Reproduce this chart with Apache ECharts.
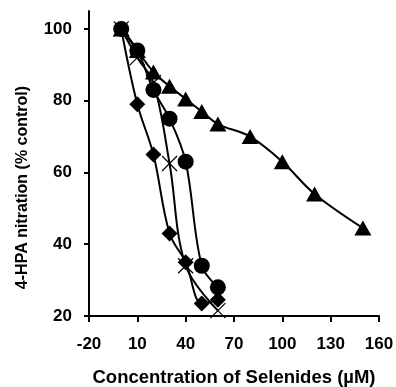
<!DOCTYPE html>
<html>
<head>
<meta charset="utf-8">
<script src="https://cdn.jsdelivr.net/npm/echarts@6/dist/echarts.min.js"></script>
<style>
  html, body { margin: 0; padding: 0; background: #fff; }
  #chart { width: 396px; height: 387px; }
</style>
</head>
<body>
<div id="chart"></div>
<script>
// concentrations (µM) and % control per selenide
const triX = [0, 10, 20, 30, 40, 50, 60, 80, 100, 120, 150];
const triY = [100, 94, 88, 84, 80.5, 77, 73.5, 70, 63, 54, 44.5];
const crossX = [0, 10, 20, 30, 40, 60];
const crossY = [100, 92, 85, 62.5, 34, 21.5];
const diamondX = [0, 10, 20, 30, 40, 50, 60];
const diamondY = [100, 79, 65, 43, 35, 23.5, 24.5];
const circleX = [0, 10, 20, 30, 40, 50, 60];
const circleY = [100, 94, 83, 75, 63, 34, 28];
const xTicks = [-20, 10, 40, 70, 100, 130, 160];
const yTicks = [20, 40, 60, 80, 100];

const font = 'Liberation Sans, Arial, sans-serif';
const pair = (xs, ys) => xs.map((x, i) => [x, ys[i]]);
const crossPath = 'path://M0,0L10,10M10,0L0,10';

function line(name, xs, ys, symbol, size, extra) {
  return Object.assign({
    name,
    type: 'line',
    data: pair(xs, ys),
    smooth: 0.35,
    symbol,
    symbolSize: size,
    lineStyle: {color: '#000', width: 2},
    itemStyle: {color: '#000'},
    animation: false,
  }, extra || {});
}

const chart = echarts.init(document.getElementById('chart'), null, {renderer: 'canvas'});
chart.setOption({
  backgroundColor: '#fff',
  grid: {left: 89, right: 17, top: 11, bottom: 71, containLabel: false, outerBoundsMode: 'none'},
  xAxis: {
    type: 'value',
    min: -20,
    max: 160,
    name: 'Concentration of Selenides (µM)',
    nameLocation: 'middle',
    nameGap: 52,
    nameTextStyle: {color: '#000', fontFamily: font, fontWeight: 'bold', fontSize: 18.5},
    axisLine: {onZero: false, lineStyle: {color: '#000', width: 2}},
    axisTick: {customValues: xTicks, length: 6, lineStyle: {color: '#000', width: 2}},
    axisLabel: {customValues: xTicks, color: '#000', fontFamily: font, fontWeight: 'bold', fontSize: 17, margin: 20},
    splitLine: {show: false},
  },
  yAxis: {
    type: 'value',
    min: 20,
    max: 105,
    name: '4-HPA nitration (% control)',
    nameLocation: 'middle',
    nameGap: 58,
    nameTextStyle: {color: '#000', fontFamily: font, fontWeight: 'bold', fontSize: 16, padding: [0, 48, 0, 0]},
    axisLine: {show: true, onZero: false, lineStyle: {color: '#000', width: 2}},
    axisTick: {show: true, customValues: yTicks, length: 5, lineStyle: {color: '#000', width: 2}},
    axisLabel: {customValues: yTicks, color: '#000', fontFamily: font, fontWeight: 'bold', fontSize: 17, margin: 17},
    splitLine: {show: false},
  },
  series: [
    line('triangle', triX, triY, 'triangle', [17, 15]),
    line('cross', crossX, crossY, crossPath, 15, {
      itemStyle: {color: 'none', borderColor: '#000', borderWidth: 1.2},
    }),
    line('diamond', diamondX, diamondY, 'diamond', 16),
    line('circle', circleX, circleY, 'circle', 16),
  ],
});
</script>
</body>
</html>
